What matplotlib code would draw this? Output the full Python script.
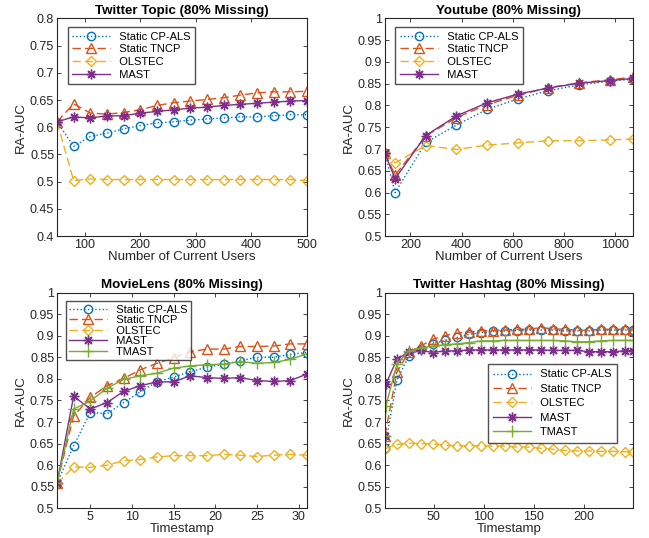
import numpy as np
import matplotlib
matplotlib.use('Agg')
import matplotlib.pyplot as plt

plt.rcParams['font.family'] = ['Liberation Sans', 'DejaVu Sans']
plt.rcParams['xtick.direction'] = 'in'
plt.rcParams['ytick.direction'] = 'in'

# MATLAB default colours
c_blue = '#0072BD'
c_orange = '#D95319'
c_yellow = '#EDB120'
c_purple = '#7E2F8E'
c_green = '#77AC30'

# --- Twitter Topic ---
x_topic = [50, 80, 110, 140, 170, 200, 230, 260, 290, 320, 350, 380, 410, 440, 470, 500]
topic_cpals = [0.61, 0.565, 0.583, 0.589, 0.597, 0.603, 0.608, 0.61, 0.613, 0.615, 0.617, 0.619, 0.619, 0.621, 0.623, 0.623]
topic_tncp = [0.61, 0.643, 0.626, 0.624, 0.627, 0.632, 0.640, 0.645, 0.648, 0.651, 0.654, 0.659, 0.663, 0.665, 0.665, 0.666]
topic_olstec = [0.61, 0.502, 0.505, 0.504, 0.504, 0.504, 0.504, 0.504, 0.504, 0.504, 0.504, 0.504, 0.504, 0.504, 0.504, 0.502]
topic_mast = [0.61, 0.619, 0.617, 0.621, 0.621, 0.626, 0.629, 0.632, 0.635, 0.637, 0.640, 0.642, 0.644, 0.646, 0.648, 0.649]

# --- Youtube ---
x_yt = [100, 140, 260, 380, 500, 620, 740, 860, 980, 1070]
yt_cpals = [0.691, 0.60, 0.715, 0.755, 0.791, 0.815, 0.834, 0.847, 0.856, 0.860]
yt_tncp = [0.69, 0.640, 0.730, 0.772, 0.802, 0.823, 0.841, 0.852, 0.859, 0.865]
yt_olstec = [0.69, 0.668, 0.708, 0.699, 0.709, 0.714, 0.719, 0.719, 0.721, 0.723]
yt_mast = [0.69, 0.632, 0.731, 0.776, 0.806, 0.826, 0.840, 0.851, 0.857, 0.862]

# --- MovieLens ---
x_ml = [1, 3, 5, 7, 9, 11, 13, 15, 17, 19, 21, 23, 25, 27, 29, 31]
ml_cpals = [0.558, 0.645, 0.722, 0.719, 0.745, 0.770, 0.793, 0.804, 0.817, 0.827, 0.834, 0.842, 0.850, 0.850, 0.857, 0.861]
ml_tncp = [0.558, 0.714, 0.757, 0.784, 0.801, 0.821, 0.836, 0.849, 0.863, 0.869, 0.869, 0.875, 0.875, 0.876, 0.881, 0.881]
ml_olstec = [0.558, 0.596, 0.595, 0.600, 0.610, 0.613, 0.619, 0.622, 0.622, 0.622, 0.625, 0.623, 0.620, 0.623, 0.625, 0.623]
ml_mast = [0.558, 0.760, 0.730, 0.745, 0.771, 0.784, 0.793, 0.793, 0.807, 0.803, 0.801, 0.803, 0.796, 0.794, 0.796, 0.811]
ml_tmast = [0.558, 0.730, 0.749, 0.778, 0.799, 0.807, 0.813, 0.825, 0.830, 0.833, 0.834, 0.840, 0.836, 0.838, 0.845, 0.858]

# --- Twitter Hashtag ---
x_ht = [1, 13, 25, 37, 49, 61, 73, 85, 97, 109, 121, 133, 145, 157, 169, 181, 193, 205, 217, 229, 241, 249]
x_ht2 = [1, 2, 13, 25, 37, 49, 61, 73, 85, 97, 109, 121, 133, 145, 157, 169, 181, 193, 205, 217, 229, 241, 249]
ht_cpals = [0.640, 0.797, 0.853, 0.869, 0.881, 0.889, 0.896, 0.903, 0.907, 0.910, 0.911, 0.912, 0.913, 0.913,
            0.913, 0.911, 0.911, 0.911, 0.913, 0.913, 0.913, 0.913]
ht_tncp = [0.668, 0.815, 0.863, 0.876, 0.892, 0.900, 0.906, 0.908, 0.912, 0.912, 0.913, 0.915, 0.915, 0.919,
           0.916, 0.915, 0.913, 0.913, 0.915, 0.915, 0.915, 0.913]
ht_olstec = [0.638, 0.648, 0.651, 0.650, 0.649, 0.646, 0.645, 0.645, 0.645, 0.644, 0.644, 0.642, 0.642, 0.639,
             0.637, 0.634, 0.633, 0.633, 0.632, 0.632, 0.631, 0.630]
ht_mast = [0.668, 0.788, 0.845, 0.863, 0.866, 0.861, 0.865, 0.865, 0.867, 0.867, 0.867, 0.867, 0.867, 0.867,
           0.867, 0.866, 0.866, 0.866, 0.863, 0.863, 0.863, 0.865, 0.865]
ht_tmast = [0.668, 0.737, 0.834, 0.865, 0.871, 0.876, 0.879, 0.881, 0.884, 0.888, 0.888, 0.889, 0.889, 0.889,
            0.889, 0.889, 0.888, 0.886, 0.886, 0.888, 0.889, 0.889, 0.889]

styles = {
    'Static CP-ALS': dict(color=c_blue, ls=':', marker='o', ms=6),
    'Static TNCP': dict(color=c_orange, ls=(0, (6, 3)), marker='^', ms=7),
    'OLSTEC': dict(color=c_yellow, ls=(0, (6, 3)), marker='D', ms=5.5),
    'MAST': dict(color=c_purple, ls='-', marker=(8, 2, 0), ms=7),
    'TMAST': dict(color=c_green, ls='-', marker='+', ms=8),
}


def draw(ax, name, x, y):
    s = styles[name]
    ax.plot(x, y, color=s['color'], linestyle=s['ls'], marker=s['marker'], markersize=s['ms'],
            markerfacecolor='none', markeredgewidth=1.0, linewidth=1.0, label='  ' + name)


def finish(ax, title, xlabel, xlim, ylim, yticks, xticks):
    ax.set_title(title, fontsize=9.6, fontweight='bold', pad=3)
    ax.set_xlabel(xlabel, fontsize=9.5, labelpad=0, color='#262626')
    ax.set_ylabel('RA-AUC', fontsize=9.5, labelpad=2, color='#262626')
    ax.set_xlim(xlim)
    ax.set_ylim(ylim)
    ax.set_yticks(yticks)
    ax.set_yticklabels(['%g' % v for v in yticks])
    ax.set_xticks(xticks)
    ax.tick_params(labelsize=9, length=3, width=0.6, top=True, right=True, pad=2, colors='#262626')
    for sp in ax.spines.values():
        sp.set_linewidth(0.8)
        sp.set_color('#262626')


leg_kw = dict(fontsize=8, frameon=True, fancybox=False, edgecolor='#262626', handlelength=3.4,
              handletextpad=0.3)

fig = plt.figure(figsize=(6.49, 5.38), dpi=100)

ax1 = fig.add_axes([0.0878, 0.561, 0.385, 0.405])
draw(ax1, 'Static CP-ALS', x_topic, topic_cpals)
draw(ax1, 'Static TNCP', x_topic, topic_tncp)
draw(ax1, 'OLSTEC', x_topic, topic_olstec)
draw(ax1, 'MAST', x_topic, topic_mast)
finish(ax1, 'Twitter Topic (80% Missing)', 'Number of Current Users', (50, 500), (0.4, 0.8),
       np.arange(0.4, 0.801, 0.05), [100, 200, 300, 400, 500])
ax1.legend(loc='upper left', bbox_to_anchor=(0.02, 0.985), borderpad=0.4, labelspacing=0.25, **leg_kw)

ax2 = fig.add_axes([0.593, 0.561, 0.382, 0.405])
draw(ax2, 'Static CP-ALS', x_yt, yt_cpals)
draw(ax2, 'Static TNCP', x_yt, yt_tncp)
draw(ax2, 'OLSTEC', x_yt, yt_olstec)
draw(ax2, 'MAST', x_yt, yt_mast)
finish(ax2, 'Youtube (80% Missing)', 'Number of Current Users', (100, 1070), (0.5, 1.0),
       np.arange(0.5, 1.001, 0.05), [200, 400, 600, 800, 1000])
ax2.legend(loc='upper left', bbox_to_anchor=(0.02, 0.985), borderpad=0.4, labelspacing=0.25, **leg_kw)

ax3 = fig.add_axes([0.0878, 0.0552, 0.385, 0.401])
draw(ax3, 'Static CP-ALS', x_ml, ml_cpals)
draw(ax3, 'Static TNCP', x_ml, ml_tncp)
draw(ax3, 'OLSTEC', x_ml, ml_olstec)
draw(ax3, 'MAST', x_ml, ml_mast)
draw(ax3, 'TMAST', x_ml, ml_tmast)
finish(ax3, 'MovieLens (80% Missing)', 'Timestamp', (1, 31), (0.5, 1.0),
       np.arange(0.5, 1.001, 0.05), [5, 10, 15, 20, 25, 30])
ax3.legend(loc='upper left', bbox_to_anchor=(0.012, 0.985), borderpad=0.3, labelspacing=0.05, **leg_kw)

ax4 = fig.add_axes([0.593, 0.0552, 0.382, 0.401])
draw(ax4, 'Static CP-ALS', x_ht, ht_cpals)
draw(ax4, 'Static TNCP', x_ht, ht_tncp)
draw(ax4, 'OLSTEC', x_ht, ht_olstec)
draw(ax4, 'MAST', x_ht2, ht_mast)
draw(ax4, 'TMAST', x_ht2, ht_tmast)
finish(ax4, 'Twitter Hashtag (80% Missing)', 'Timestamp', (1, 249), (0.5, 1.0),
       np.arange(0.5, 1.001, 0.05), [50, 100, 150, 200])
ax4.legend(loc='upper right', bbox_to_anchor=(0.96, 0.695), borderpad=0.5, labelspacing=0.4, **leg_kw)

fig.savefig('out.png', dpi=100)
